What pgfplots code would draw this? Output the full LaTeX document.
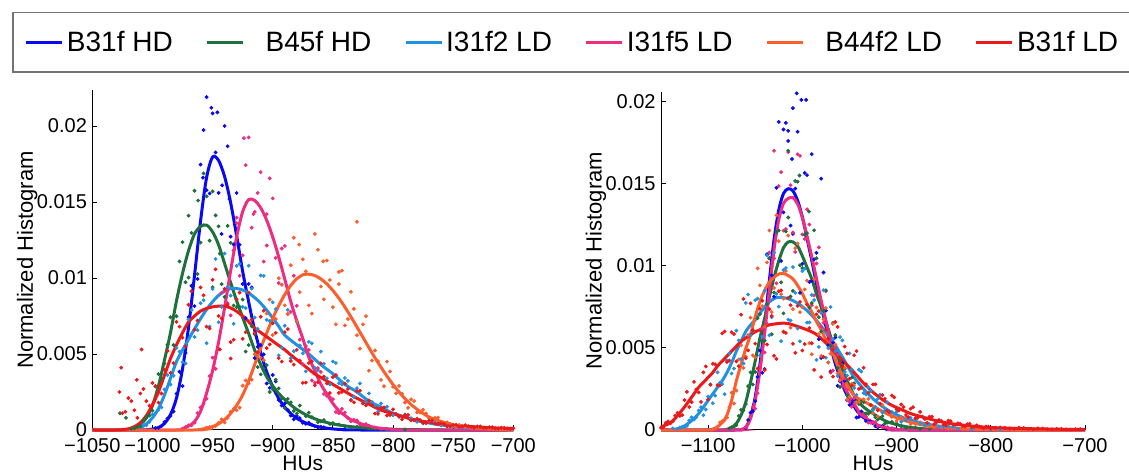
\documentclass[border=0pt]{standalone}
\usepackage{fontspec}
\setmainfont{Liberation Sans}
\usepackage{pgfplots}
\pgfplotsset{compat=1.18}
\definecolor{cB}{RGB}{10,10,240}
\definecolor{cG}{RGB}{30,112,60}
\definecolor{cL}{RGB}{35,145,225}
\definecolor{cP}{RGB}{238,45,128}
\definecolor{cO}{RGB}{250,95,45}
\definecolor{cR}{RGB}{235,25,25}
\pgfplotsset{
  hist/.style={scale only axis, axis lines*=left, clip=false, tick align=inside,
    major tick length=2.5pt, tick style={black, line width=0.4pt},
    axis line style={line width=0.5pt, black}, scaled y ticks=false, ymin=0,
    ytick={0,0.005,0.01,0.015,0.02}, yticklabels={0,0.005,0.01,0.015,0.02},
    ticklabel style={font=\fontsize{10}{12}\selectfont},
    xticklabel style={anchor=north, inner sep=0pt, yshift=-4.2pt},
    yticklabel style={anchor=east, inner sep=0pt, xshift=-2.5pt},
    xlabel={HUs}, ylabel={Normalized Histogram},
    every axis x label/.style={at={([yshift=-20.5pt]axis description cs:0.5,0)}, anchor=base, font=\fontsize{10.5}{12}\selectfont},
    every axis y label/.style={at={([xshift=-29.7pt]axis description cs:0,0.5)}, rotate=90, anchor=base, font=\fontsize{11}{13}\selectfont}},
  dots/.style={only marks, mark=*, mark size=0.75pt, forget plot},
  curve/.style={no marks, smooth, line width=1.5pt},
}
\begin{document}
\begin{tikzpicture}
\useasboundingbox (0,0) rectangle (564.5pt,237.5pt);
% ---------------- LEFT ----------------
\begin{axis}[hist, at={(46.15pt,22.5pt)}, anchor=south west, width=210.5pt, height=170pt,
  xmin=-1050, xmax=-700, ymax=0.02237,
  xtick={-1050,-1000,-950,-900,-850,-800,-750,-700},
  xticklabels={−1050,−1000,−950,−900,−850,−800,−750,−700},
  legend columns=6,
  legend image code/.code={\draw[#1, line width=1.6pt] (0pt,0pt) -- (18pt,0pt);},
  legend style={at={(axis description cs:-0.1907,1.2294)}, anchor=north west,
    draw=black!55, line width=0.75pt, fill=white, inner xsep=6pt, inner ysep=7pt,
    font=\fontsize{14}{16}\selectfont,
    nodes={inner xsep=1.5pt, inner ysep=2pt},
    /tikz/every even column/.append style={column sep=14.8pt}}]
% dots
\addplot[dots, cB] table[row sep=\\] {
-997.5 0.00013\\ -992.5 0.00026\\ -987.5 0.00076\\ -982.5 0.00122\\ -977.5 0.00383\\ -972.5 0.00507\\ -967.5 0.00949\\ -962.5 0.00994\\ -957.5 0.01973\\ -952.5 0.01556\\ -947.5 0.01826\\ -942.5 0.0129\\ -937.5 0.01867\\ -932.5 0.01221\\ -927.5 0.01219\\ -922.5 0.00736\\ -917.5 0.00938\\ -912.5 0.00548\\ -907.5 0.00498\\ -902.5 0.00277\\ -897.5 0.0032\\ -892.5 0.00161\\ -887.5 0.00132\\ -882.5 0.0007\\ -877.5 0.00078\\ -872.5 0.00041\\ -867.5 0.00035\\ -862.5 0.00017\\ -857.5 0.00018\\
-955 0.0219\\ -951 0.0212\\ -946 0.0209\\ -958 0.0166\\ -942 0.0161\\ -936 0.0152\\
-995 0.00014\\ -990 0.00052\\ -985 0.00093\\ -980 0.00239\\ -975 0.00289\\ -970 0.00743\\ -965 0.00815\\ -960 0.01746\\ -955 0.01578\\ -950 0.02083\\ -945 0.0156\\ -940 0.02\\ -935 0.01272\\ -930 0.01559\\ -925 0.0096\\ -920 0.00961\\ -915 0.00473\\ -910 0.00559\\ -905 0.00306\\ -900 0.00362\\ -895 0.00197\\ -890 0.00174\\ -885 0.00095\\ -880 0.00092\\ -875 0.00047\\ -870 0.00048\\ -865 0.00025\\ -860 0.00021\\
};
\addplot[dots, cG] table[row sep=\\] {
-1017.5 0.00008\\ -1012.5 0.00021\\ -1007.5 0.00064\\ -1002.5 0.00095\\ -997.5 0.00286\\ -992.5 0.00338\\ -987.5 0.00561\\ -982.5 0.00559\\ -977.5 0.01109\\ -972.5 0.00972\\ -967.5 0.01297\\ -962.5 0.01026\\ -957.5 0.01688\\ -952.5 0.01246\\ -947.5 0.01412\\ -942.5 0.0096\\ -937.5 0.01343\\ -932.5 0.00819\\ -927.5 0.00811\\ -922.5 0.00516\\ -917.5 0.00683\\ -912.5 0.00414\\ -907.5 0.00404\\ -902.5 0.0025\\ -897.5 0.00331\\ -892.5 0.00207\\ -887.5 0.00205\\ -882.5 0.00125\\ -877.5 0.00161\\ -872.5 0.00091\\ -867.5 0.00085\\ -862.5 0.00051\\ -857.5 0.00065\\ -852.5 0.0004\\ -845 0.00036\\ -835 0.00017\\ -825 0.00019\\ -815 0.0001\\ -805 0.00007\\ -790 0.00003\\
-1027 0.0011\\ -1022 0.0008\\ -970 0.0141\\ -962 0.0151\\ -950 0.0157\\ -944 0.0116\\
-1015 0.00011\\ -1010 0.00025\\ -1005 0.00088\\ -1000 0.00128\\ -995 0.00368\\ -990 0.00437\\ -985 0.00742\\ -980 0.00748\\ -975 0.01236\\ -970 0.01003\\ -965 0.01574\\ -960 0.01233\\ -955 0.01537\\ -950 0.00939\\ -945 0.0134\\ -940 0.00876\\ -935 0.01232\\ -930 0.00808\\ -925 0.00858\\ -920 0.00559\\ -915 0.0063\\ -910 0.00366\\ -905 0.00427\\ -900 0.00267\\ -895 0.00274\\ -890 0.00144\\ -885 0.00182\\ -880 0.00108\\ -870 0.00114\\ -860 0.00057\\ -850 0.00046\\ -840 0.00024\\ -830 0.00022\\ -820 0.0001\\
};
\addplot[dots, cL] table[row sep=\\] {
-1007.5 0.00036\\ -1002.5 0.00054\\ -997.5 0.00112\\ -992.5 0.00149\\ -987.5 0.00361\\ -982.5 0.00357\\ -977.5 0.00516\\ -972.5 0.00438\\ -967.5 0.00789\\ -962.5 0.00657\\ -957.5 0.00854\\ -952.5 0.0068\\ -947.5 0.01125\\ -942.5 0.0081\\ -937.5 0.0094\\ -932.5 0.00699\\ -927.5 0.01093\\ -922.5 0.00802\\ -917.5 0.0093\\ -912.5 0.00665\\ -907.5 0.01014\\ -902.5 0.00717\\ -897.5 0.00795\\ -892.5 0.00542\\ -887.5 0.0079\\ -882.5 0.00518\\ -877.5 0.00556\\ -872.5 0.00386\\ -867.5 0.0057\\ -862.5 0.00394\\ -857.5 0.00436\\ -852.5 0.003\\ -847.5 0.00441\\ -842.5 0.00299\\ -837.5 0.00323\\ -832.5 0.00218\\ -827.5 0.00306\\ -822.5 0.00185\\ -817.5 0.00184\\ -812.5 0.0012\\ -805 0.00153\\ -795 0.00086\\ -785 0.00078\\ -775 0.00043\\ -765 0.0005\\ -755 0.00027\\ -745 0.00022\\ -735 0.00012\\ -725 0.00013\\ -715 0.00006\\
-1005 0.00032\\ -1000 0.00102\\ -995 0.00133\\ -990 0.00267\\ -985 0.00299\\ -980 0.0054\\ -975 0.00447\\ -970 0.00727\\ -965 0.00612\\ -960 0.00834\\ -955 0.00571\\ -950 0.00928\\ -945 0.00709\\ -940 0.01161\\ -935 0.00884\\ -930 0.0108\\ -925 0.0081\\ -920 0.01081\\ -915 0.0074\\ -910 0.01017\\ -905 0.00725\\ -900 0.0084\\ -895 0.00491\\ -890 0.00686\\ -885 0.00472\\ -880 0.00711\\ -875 0.00504\\ -870 0.0058\\ -865 0.00409\\ -860 0.00516\\ -855 0.0034\\ -850 0.00451\\ -845 0.00308\\ -840 0.00342\\ -835 0.00198\\ -830 0.00275\\ -825 0.00176\\ -820 0.00241\\ -815 0.00162\\ -810 0.00174\\ -800 0.00097\\ -790 0.00102\\ -780 0.00054\\ -770 0.00056\\ -760 0.0003\\ -750 0.00027\\ -740 0.00012\\ -730 0.00013\\ -720 0.00006\\
};
\addplot[dots, cP] table[row sep=\\] {
-972.5 0.00019\\ -967.5 0.00031\\ -962.5 0.00111\\ -957.5 0.00172\\ -952.5 0.00354\\ -947.5 0.00402\\ -942.5 0.00901\\ -937.5 0.00834\\ -932.5 0.01182\\ -927.5 0.01015\\ -922.5 0.01742\\ -917.5 0.01331\\ -912.5 0.0156\\ -907.5 0.01108\\ -902.5 0.01656\\ -897.5 0.01132\\ -892.5 0.01194\\ -887.5 0.00763\\ -882.5 0.01015\\ -877.5 0.00594\\ -872.5 0.00552\\ -867.5 0.00326\\ -862.5 0.00407\\ -857.5 0.00237\\ -852.5 0.00216\\ -847.5 0.00118\\ -842.5 0.00139\\ -837.5 0.00077\\ -832.5 0.00067\\ -827.5 0.00037\\ -822.5 0.00039\\ -815 0.00016\\ -805 0.00007\\
-924 0.0192\\ -916 0.0142\\ -905 0.0142\\ -930 0.0136\\
-970 0.0003\\ -965 0.00048\\ -960 0.00148\\ -955 0.00206\\ -950 0.00476\\ -945 0.00533\\ -940 0.00919\\ -935 0.00754\\ -930 0.01397\\ -925 0.01149\\ -920 0.01925\\ -915 0.01435\\ -910 0.01696\\ -905 0.01214\\ -900 0.01524\\ -895 0.00967\\ -890 0.01211\\ -885 0.00777\\ -880 0.00817\\ -875 0.00433\\ -870 0.00527\\ -865 0.00311\\ -860 0.00382\\ -855 0.00225\\ -850 0.00203\\ -845 0.00111\\ -840 0.00115\\ -835 0.00057\\ -830 0.00063\\ -825 0.00033\\ -820 0.00029\\ -810 0.00008\\
};
\addplot[dots, cO] table[row sep=\\] {
-952.5 0.00019\\ -947.5 0.00026\\ -942.5 0.0007\\ -937.5 0.00079\\ -932.5 0.00138\\ -927.5 0.00147\\ -922.5 0.00326\\ -917.5 0.00331\\ -912.5 0.00508\\ -907.5 0.00459\\ -902.5 0.00858\\ -897.5 0.0073\\ -892.5 0.00956\\ -887.5 0.00764\\ -882.5 0.01265\\ -877.5 0.00907\\ -872.5 0.01044\\ -867.5 0.00766\\ -862.5 0.01186\\ -857.5 0.0086\\ -852.5 0.00987\\ -847.5 0.00696\\ -842.5 0.01048\\ -837.5 0.0073\\ -832.5 0.00797\\ -827.5 0.00535\\ -822.5 0.00749\\ -817.5 0.00457\\ -812.5 0.00453\\ -807.5 0.00288\\ -802.5 0.00385\\ -797.5 0.00241\\ -792.5 0.00239\\ -787.5 0.00146\\ -782.5 0.0019\\ -777.5 0.00115\\ -772.5 0.00109\\ -767.5 0.00065\\ -762.5 0.00082\\ -757.5 0.00045\\ -752.5 0.00041\\ -747.5 0.00023\\ -742.5 0.00027\\ -735 0.00014\\ -725 0.00011\\ -715 0.00004\\
-830 0.0137\\ -878 0.0122\\ -858 0.0111\\ -845 0.0096\\
-955 0.00015\\ -950 0.0002\\ -945 0.00047\\ -940 0.00049\\ -935 0.0012\\ -930 0.0013\\ -925 0.00292\\ -920 0.00307\\ -915 0.00499\\ -910 0.00474\\ -905 0.00766\\ -900 0.00625\\ -895 0.00998\\ -890 0.0082\\ -885 0.01084\\ -880 0.00716\\ -875 0.01123\\ -870 0.0082\\ -865 0.0129\\ -860 0.00944\\ -855 0.01115\\ -850 0.00808\\ -845 0.0104\\ -840 0.00688\\ -835 0.00909\\ -830 0.00624\\ -825 0.00695\\ -820 0.0039\\ -815 0.00523\\ -810 0.0033\\ -805 0.0045\\ -800 0.00284\\ -795 0.0029\\ -790 0.00181\\ -785 0.00202\\ -780 0.00116\\ -775 0.00133\\ -770 0.00078\\ -765 0.0008\\ -760 0.0004\\ -755 0.0005\\ -750 0.00027\\ -745 0.00033\\ -740 0.00019\\ -730 0.00014\\ -720 0.00006\\ -710 0.00005\\
};
\addplot[dots, cR] table[row sep=\\] {
-1027.5 0.0025\\ -1022.5 0.0012\\ -1017.5 0.0019\\ -1012.5 0.0008\\ -1007.5 0.0027\\ -1002.5 0.0016\\ -997.5 0.0029\\ -992.5 0.0024\\ -987.5 0.0052\\ -982.5 0.0044\\ -977.5 0.0068\\ -972.5 0.0055\\ -967.5 0.00913\\ -962.5 0.0072\\ -957.5 0.00886\\ -952.5 0.00668\\ -947.5 0.01057\\ -942.5 0.00734\\ -937.5 0.00824\\ -932.5 0.00594\\ -927.5 0.00904\\ -922.5 0.00643\\ -917.5 0.00726\\ -912.5 0.00512\\ -907.5 0.00785\\ -902.5 0.00563\\ -897.5 0.00639\\ -892.5 0.0045\\ -887.5 0.00664\\ -882.5 0.0043\\ -877.5 0.00456\\ -872.5 0.00312\\ -867.5 0.00453\\ -862.5 0.00314\\ -857.5 0.00352\\ -852.5 0.00243\\ -847.5 0.00361\\ -842.5 0.0025\\ -837.5 0.0027\\ -832.5 0.00182\\ -827.5 0.00259\\ -822.5 0.00162\\ -817.5 0.00163\\ -812.5 0.00106\\ -807.5 0.00148\\ -802.5 0.00099\\ -797.5 0.00106\\ -792.5 0.0007\\ -787.5 0.00099\\ -782.5 0.00064\\ -777.5 0.00066\\ -772.5 0.00045\\ -767.5 0.00062\\ -762.5 0.00038\\ -757.5 0.00039\\ -752.5 0.00024\\ -747.5 0.00034\\ -742.5 0.00023\\ -737.5 0.00025\\ -732.5 0.00016\\ -727.5 0.00024\\ -722.5 0.00014\\ -717.5 0.00018\\ -712.5 0.0001\\ -707.5 0.00014\\ -702.5 0.00008\\
-1026 0.0041\\ -1009 0.0053\\ -1013 0.0033\\ -944 0.0053\\ -935 0.0047\\
-1025 0.0011\\ -1020 0.0021\\ -1015 0.0013\\ -1010 0.0024\\ -1005 0.0019\\ -1000 0.0031\\ -995 0.0018\\ -990 0.00396\\ -985 0.00376\\ -980 0.00711\\ -975 0.00608\\ -970 0.00824\\ -965 0.0066\\ -960 0.00938\\ -955 0.0068\\ -950 0.00988\\ -945 0.0075\\ -940 0.00929\\ -935 0.00578\\ -930 0.00859\\ -925 0.006\\ -920 0.00904\\ -915 0.00637\\ -910 0.00745\\ -905 0.00539\\ -900 0.00702\\ -895 0.00473\\ -890 0.00644\\ -885 0.00454\\ -880 0.00527\\ -875 0.0031\\ -870 0.0044\\ -865 0.00294\\ -860 0.00439\\ -855 0.00307\\ -850 0.00348\\ -845 0.00244\\ -840 0.00305\\ -835 0.00196\\ -830 0.00255\\ -825 0.00175\\ -820 0.00194\\ -815 0.00108\\ -810 0.00144\\ -805 0.00095\\ -800 0.00136\\ -795 0.0009\\ -790 0.00097\\ -785 0.00064\\ -780 0.00074\\ -775 0.00048\\ -770 0.00062\\ -765 0.00041\\ -760 0.00044\\ -755 0.00024\\ -750 0.00033\\ -745 0.00022\\ -740 0.00032\\ -735 0.00021\\ -730 0.00023\\ -725 0.00015\\ -720 0.00018\\ -715 0.00011\\ -710 0.00015\\ -705 0.0001\\ -700 0.00011\\
};
% curves
\addplot[curve, cB] table[row sep=\\] {
-1050 0\\ -1010 0\\ -1005 0.00002\\ -1000 0.00006\\ -995 0.00016\\ -990 0.00043\\ -985 0.00101\\ -980 0.0021\\ -975 0.00402\\ -970 0.00675\\ -965 0.01019\\ -960 0.01375\\ -955 0.01661\\ -950 0.01796\\ -945 0.01773\\ -940 0.01667\\ -935 0.01496\\ -930 0.01278\\ -925 0.01044\\ -920 0.00843\\ -915 0.00657\\ -910 0.00508\\ -905 0.00382\\ -900 0.00285\\ -895 0.00207\\ -890 0.0015\\ -885 0.00108\\ -880 0.00077\\ -875 0.00055\\ -870 0.00039\\ -865 0.00027\\ -860 0.00018\\ -850 0.00007\\ -840 0.00002\\ -830 0\\ -700 0\\
};
\addlegendentry{B31f HD}
\addplot[curve, cG] table[row sep=\\] {
-1050 0\\ -1025 0\\ -1020 0.00003\\ -1015 0.0001\\ -1010 0.00035\\ -1005 0.0008\\ -1000 0.0016\\ -995 0.0029\\ -990 0.0046\\ -985 0.0064\\ -980 0.0085\\ -975 0.0103\\ -970 0.0118\\ -965 0.0129\\ -960 0.0134\\ -955 0.01348\\ -950 0.01304\\ -945 0.01218\\ -940 0.01095\\ -935 0.0097\\ -930 0.0085\\ -925 0.0074\\ -920 0.00635\\ -915 0.00525\\ -910 0.0043\\ -905 0.0035\\ -900 0.0029\\ -895 0.0024\\ -890 0.002\\ -885 0.00165\\ -880 0.00135\\ -870 0.0009\\ -860 0.0006\\ -850 0.0004\\ -840 0.00027\\ -830 0.00018\\ -820 0.00012\\ -810 0.00008\\ -800 0.00005\\ -780 0.00002\\ -760 0\\ -700 0\\
};
\addlegendentry{\hspace{9pt}B45f HD}
\addplot[curve, cL] table[row sep=\\] {
-1050 0\\ -1015 0\\ -1010 0.00015\\ -1005 0.0004\\ -1000 0.0008\\ -995 0.0014\\ -990 0.0023\\ -985 0.0034\\ -980 0.0045\\ -975 0.00526\\ -970 0.00596\\ -965 0.00665\\ -960 0.00732\\ -955 0.00793\\ -950 0.00844\\ -945 0.00886\\ -940 0.00914\\ -935 0.0093\\ -930 0.00931\\ -925 0.00921\\ -920 0.00901\\ -915 0.00871\\ -910 0.00834\\ -905 0.00788\\ -900 0.00737\\ -895 0.00682\\ -890 0.00624\\ -880 0.0056\\ -870 0.005\\ -860 0.0043\\ -850 0.0037\\ -840 0.003\\ -830 0.0025\\ -820 0.0019\\ -810 0.0015\\ -800 0.0011\\ -790 0.00085\\ -780 0.00063\\ -770 0.00046\\ -760 0.00033\\ -750 0.00024\\ -740 0.00017\\ -730 0.00012\\ -720 0.00008\\ -700 0.00004\\
};
\addlegendentry{I31f2 LD}
\addplot[curve, cP] table[row sep=\\] {
-1050 0\\ -980 0\\ -975 0.00009\\ -970 0.00026\\ -965 0.00055\\ -960 0.00123\\ -955 0.00242\\ -950 0.0039\\ -945 0.00579\\ -940 0.00806\\ -935 0.01047\\ -930 0.0127\\ -925 0.01436\\ -920 0.01516\\ -915 0.0151\\ -910 0.01462\\ -905 0.0138\\ -900 0.0127\\ -895 0.01138\\ -890 0.00993\\ -885 0.00845\\ -880 0.00717\\ -875 0.00602\\ -870 0.00479\\ -865 0.00389\\ -860 0.00301\\ -855 0.00237\\ -850 0.00175\\ -845 0.00126\\ -840 0.00096\\ -835 0.00067\\ -830 0.00052\\ -825 0.00036\\ -820 0.00025\\ -810 0.00011\\ -800 0.00004\\ -790 0\\ -700 0\\
};
\addlegendentry{I31f5 LD}
\addplot[curve, cO] table[row sep=\\] {
-1050 0\\ -965 0\\ -960 0.00004\\ -955 0.00012\\ -950 0.00022\\ -945 0.00041\\ -940 0.00068\\ -935 0.00109\\ -930 0.00162\\ -925 0.0023\\ -920 0.00323\\ -915 0.0043\\ -910 0.00539\\ -905 0.00638\\ -900 0.00735\\ -895 0.00818\\ -890 0.00891\\ -885 0.00951\\ -880 0.00995\\ -875 0.01021\\ -870 0.01025\\ -865 0.01016\\ -860 0.00994\\ -855 0.00961\\ -850 0.00918\\ -845 0.00867\\ -840 0.00809\\ -835 0.00745\\ -830 0.00678\\ -825 0.0061\\ -820 0.00542\\ -815 0.00475\\ -810 0.00413\\ -805 0.00354\\ -800 0.00299\\ -795 0.0025\\ -790 0.00206\\ -785 0.00168\\ -780 0.00136\\ -775 0.00109\\ -770 0.00085\\ -765 0.0007\\ -760 0.00056\\ -755 0.00045\\ -750 0.00034\\ -745 0.00026\\ -740 0.0002\\ -730 0.00012\\ -720 0.00007\\ -710 0.00004\\ -700 0.00002\\
};
\addlegendentry{\hspace{9pt}B44f2 LD}
\addplot[curve, cR] table[row sep=\\] {
-1050 0\\ -1030 0\\ -1025 0.00002\\ -1020 0.00008\\ -1015 0.00022\\ -1010 0.00048\\ -1005 0.00095\\ -1000 0.00165\\ -995 0.0025\\ -990 0.0036\\ -985 0.0047\\ -980 0.0056\\ -975 0.0064\\ -970 0.0071\\ -965 0.0075\\ -960 0.00782\\ -955 0.008\\ -950 0.0081\\ -945 0.00815\\ -940 0.00815\\ -935 0.00803\\ -930 0.00781\\ -925 0.0075\\ -920 0.00712\\ -915 0.0067\\ -910 0.00642\\ -905 0.00613\\ -900 0.00585\\ -895 0.00556\\ -890 0.00528\\ -885 0.00494\\ -880 0.00462\\ -875 0.00431\\ -870 0.004\\ -865 0.00368\\ -860 0.00346\\ -855 0.00323\\ -850 0.003\\ -845 0.00277\\ -840 0.00254\\ -835 0.0023\\ -830 0.00209\\ -820 0.0017\\ -810 0.00131\\ -800 0.00107\\ -790 0.00084\\ -780 0.00062\\ -770 0.00051\\ -760 0.00039\\ -750 0.0003\\ -740 0.00025\\ -730 0.0002\\ -720 0.00015\\ -710 0.00012\\ -700 0.0001\\
};
\addlegendentry{B31f LD}
\end{axis}
% ---------------- RIGHT ----------------
\begin{axis}[hist, at={(330.5pt,22.5pt)}, anchor=south west, width=212pt, height=169.15pt,
  xmin=-1150, xmax=-700, ymax=0.0206,
  xtick={-1100,-1000,-900,-800,-700},
  xticklabels={−1100,−1000,−900,−800,−700}]
\addplot[dots, cB] table[row sep=\\] {
-1057.5 0.00061\\ -1052.5 0.00115\\ -1047.5 0.00324\\ -1042.5 0.00348\\ -1037.5 0.0107\\ -1032.5 0.00942\\ -1027.5 0.01475\\ -1022.5 0.01029\\ -1017.5 0.0187\\ -1012.5 0.01245\\ -1007.5 0.0147\\ -1002.5 0.00835\\ -997.5 0.01565\\ -992.5 0.00902\\ -987.5 0.01039\\ -982.5 0.00553\\ -977.5 0.00959\\ -972.5 0.00515\\ -967.5 0.00533\\ -962.5 0.00269\\ -957.5 0.00409\\ -952.5 0.00182\\ -947.5 0.0017\\ -942.5 0.00076\\ -937.5 0.00113\\ -932.5 0.00055\\ -927.5 0.00053\\ -922.5 0.00023\\ -915 0.00025\\ -905 0.00009\\
-1006 0.0205\\ -1001 0.0201\\ -996 0.0201\\ -1010 0.0196\\ -1020 0.0183\\ -1015 0.0176\\ -990 0.0168\\ -980 0.0153\\ -1011 0.0165\\
-1060 0.00012\\ -1055 0.00106\\ -1050 0.00176\\ -1045 0.00484\\ -1040 0.00371\\ -1035 0.01047\\ -1030 0.00812\\ -1025 0.01876\\ -1020 0.01325\\ -1015 0.01822\\ -1010 0.01194\\ -1005 0.01816\\ -1000 0.01012\\ -995 0.01552\\ -990 0.00908\\ -985 0.01079\\ -980 0.00439\\ -975 0.00727\\ -970 0.00357\\ -965 0.00564\\ -960 0.00297\\ -955 0.00299\\ -950 0.00153\\ -945 0.00186\\ -940 0.00079\\ -935 0.00101\\ -930 0.0005\\ -925 0.00048\\ -920 0.00016\\
};
\addplot[dots, cP] table[row sep=\\] {
-1057.5 0.0004\\ -1052.5 0.0014\\ -1047.5 0.00224\\ -1042.5 0.00618\\ -1037.5 0.00648\\ -1032.5 0.00995\\ -1027.5 0.00893\\ -1022.5 0.0157\\ -1017.5 0.01223\\ -1012.5 0.01491\\ -1007.5 0.01084\\ -1002.5 0.01669\\ -997.5 0.01163\\ -992.5 0.01251\\ -987.5 0.0082\\ -982.5 0.01112\\ -977.5 0.00653\\ -972.5 0.00611\\ -967.5 0.00362\\ -962.5 0.0046\\ -957.5 0.00268\\ -952.5 0.00244\\ -947.5 0.00141\\ -942.5 0.0017\\ -937.5 0.00093\\ -932.5 0.00082\\ -927.5 0.00044\\ -922.5 0.00048\\ -915 0.00018\\ -905 0.0001\\
-1030 0.0170\\
-1060 0.00016\\ -1055 0.0008\\ -1050 0.0013\\ -1045 0.00396\\ -1040 0.00472\\ -1035 0.0108\\ -1030 0.01045\\ -1025 0.01485\\ -1020 0.01214\\ -1015 0.01692\\ -1010 0.01203\\ -1005 0.01679\\ -1000 0.01191\\ -995 0.01344\\ -990 0.0076\\ -985 0.01014\\ -980 0.0063\\ -975 0.00845\\ -970 0.00506\\ -965 0.00502\\ -960 0.00305\\ -955 0.00313\\ -950 0.00173\\ -945 0.00194\\ -940 0.00104\\ -935 0.00097\\ -930 0.00045\\ -925 0.00048\\ -920 0.00024\\ -910 0.00017\\
};
\addplot[dots, cG] table[row sep=\\] {
-1077.5 0.0001\\ -1072.5 0.0002\\ -1067.5 0.00086\\ -1062.5 0.0012\\ -1057.5 0.00267\\ -1052.5 0.00277\\ -1047.5 0.00681\\ -1042.5 0.00539\\ -1037.5 0.00767\\ -1032.5 0.00583\\ -1027.5 0.01205\\ -1022.5 0.00899\\ -1017.5 0.01209\\ -1012.5 0.00813\\ -1007.5 0.01516\\ -1002.5 0.01003\\ -997.5 0.01189\\ -992.5 0.00745\\ -987.5 0.01216\\ -982.5 0.00687\\ -977.5 0.00726\\ -972.5 0.00412\\ -967.5 0.00652\\ -962.5 0.00378\\ -957.5 0.00396\\ -952.5 0.00213\\ -947.5 0.00319\\ -942.5 0.00175\\ -937.5 0.00174\\ -932.5 0.00101\\ -927.5 0.00153\\ -922.5 0.00078\\ -917.5 0.00074\\ -912.5 0.00038\\ -905 0.0005\\ -895 0.00022\\ -885 0.00017\\ -875 0.00007\\ -865 0.00007\\
-1015 0.0170\\ -1003 0.0155\\ -993 0.0133\\
-1075 0.00017\\ -1070 0.0003\\ -1065 0.00122\\ -1060 0.00158\\ -1055 0.00351\\ -1050 0.00353\\ -1045 0.00706\\ -1040 0.00544\\ -1035 0.01045\\ -1030 0.00837\\ -1025 0.01215\\ -1020 0.0071\\ -1015 0.01294\\ -1010 0.00847\\ -1005 0.01512\\ -1000 0.00986\\ -995 0.01198\\ -990 0.00773\\ -985 0.01046\\ -980 0.006\\ -975 0.00851\\ -970 0.00513\\ -965 0.00578\\ -960 0.00262\\ -955 0.00373\\ -950 0.002\\ -945 0.00284\\ -940 0.00158\\ -935 0.00169\\ -930 0.00099\\ -925 0.00126\\ -920 0.00064\\ -915 0.00084\\ -910 0.00045\\ -900 0.00039\\ -890 0.00013\\ -880 0.00014\\
};
\addplot[dots, cO] table[row sep=\\] {
-1092.5 0.00009\\ -1087.5 0.00046\\ -1082.5 0.00059\\ -1077.5 0.00139\\ -1072.5 0.00161\\ -1067.5 0.0043\\ -1062.5 0.00378\\ -1057.5 0.00578\\ -1052.5 0.00454\\ -1047.5 0.00984\\ -1042.5 0.00754\\ -1037.5 0.01021\\ -1032.5 0.00718\\ -1027.5 0.01307\\ -1022.5 0.00827\\ -1017.5 0.00968\\ -1012.5 0.00623\\ -1007.5 0.01107\\ -1002.5 0.00718\\ -997.5 0.00856\\ -992.5 0.00529\\ -987.5 0.00918\\ -982.5 0.00584\\ -977.5 0.00673\\ -972.5 0.0041\\ -967.5 0.00646\\ -962.5 0.00344\\ -957.5 0.0034\\ -952.5 0.00184\\ -947.5 0.00283\\ -942.5 0.00168\\ -935 0.00187\\ -925 0.00103\\ -915 0.00152\\ -905 0.0008\\ -895 0.00075\\ -885 0.00037\\ -875 0.00047\\ -865 0.00021\\ -855 0.00018\\ -845 0.00008\\ -830 0.00009\\
-1090 0.00019\\ -1085 0.00054\\ -1080 0.00076\\ -1075 0.00227\\ -1070 0.0024\\ -1065 0.00516\\ -1060 0.00446\\ -1055 0.00684\\ -1050 0.00442\\ -1045 0.00881\\ -1040 0.00629\\ -1035 0.01215\\ -1030 0.00865\\ -1025 0.0115\\ -1020 0.008\\ -1015 0.01184\\ -1010 0.00736\\ -1005 0.01135\\ -1000 0.00747\\ -995 0.00909\\ -990 0.00461\\ -985 0.00746\\ -980 0.00451\\ -975 0.00743\\ -970 0.00465\\ -965 0.0052\\ -960 0.00302\\ -955 0.00378\\ -950 0.002\\ -945 0.00271\\ -940 0.00171\\ -930 0.00189\\ -920 0.00083\\ -910 0.00111\\ -900 0.00056\\ -890 0.00074\\ -880 0.00037\\ -870 0.00034\\ -860 0.00017\\ -850 0.00018\\
};
\addplot[dots, cL] table[row sep=\\] {
-1137.5 0.0001\\ -1132.5 0.00007\\ -1127.5 0.00019\\ -1122.5 0.00025\\ -1117.5 0.00077\\ -1112.5 0.00078\\ -1107.5 0.00139\\ -1102.5 0.00125\\ -1097.5 0.00278\\ -1092.5 0.00209\\ -1087.5 0.00288\\ -1082.5 0.00218\\ -1077.5 0.00467\\ -1072.5 0.00374\\ -1067.5 0.00546\\ -1062.5 0.00405\\ -1057.5 0.00825\\ -1052.5 0.00603\\ -1047.5 0.008\\ -1042.5 0.00569\\ -1037.5 0.01063\\ -1032.5 0.00687\\ -1027.5 0.00829\\ -1022.5 0.00541\\ -1017.5 0.00986\\ -1012.5 0.00666\\ -1007.5 0.00835\\ -1002.5 0.0054\\ -997.5 0.00982\\ -992.5 0.00655\\ -987.5 0.00791\\ -982.5 0.00506\\ -977.5 0.00851\\ -972.5 0.00499\\ -967.5 0.00551\\ -962.5 0.00329\\ -957.5 0.00546\\ -952.5 0.00332\\ -947.5 0.00369\\ -942.5 0.00214\\ -937.5 0.00356\\ -932.5 0.00216\\ -927.5 0.00238\\ -922.5 0.0014\\ -917.5 0.00215\\ -912.5 0.00117\\ -905 0.0011\\ -895 0.0005\\ -885 0.00074\\ -875 0.00038\\ -865 0.00035\\ -855 0.00017\\ -845 0.00023\\ -835 0.00009\\ -820 0.00006\\ -800 0.00004\\
-1130 0.00015\\ -1125 0.0002\\ -1120 0.00058\\ -1115 0.00063\\ -1110 0.00118\\ -1105 0.0009\\ -1100 0.00203\\ -1095 0.00163\\ -1090 0.00351\\ -1085 0.00279\\ -1080 0.00424\\ -1075 0.00344\\ -1070 0.00605\\ -1065 0.00432\\ -1060 0.00774\\ -1055 0.00576\\ -1050 0.00791\\ -1045 0.00454\\ -1040 0.00848\\ -1035 0.00577\\ -1030 0.0108\\ -1025 0.00751\\ -1020 0.00974\\ -1015 0.00672\\ -1010 0.00992\\ -1005 0.00618\\ -1000 0.00968\\ -995 0.00654\\ -990 0.00822\\ -985 0.00427\\ -980 0.00712\\ -975 0.0044\\ -970 0.00749\\ -965 0.00479\\ -960 0.00566\\ -955 0.00353\\ -950 0.00466\\ -945 0.00256\\ -940 0.00368\\ -935 0.00225\\ -930 0.0026\\ -925 0.00122\\ -920 0.00189\\ -915 0.00106\\ -910 0.00169\\ -900 0.00109\\ -890 0.00059\\ -880 0.00066\\ -870 0.00031\\ -860 0.00036\\ -850 0.00018\\ -840 0.00017\\ -820 0.00008\\ -790 0.00003\\
};
\addplot[dots, cR] table[row sep=\\] {
-1147.5 0.00017\\ -1142.5 0.00052\\ -1137.5 0.00053\\ -1132.5 0.00104\\ -1127.5 0.00091\\ -1122.5 0.00232\\ -1117.5 0.0017\\ -1112.5 0.00247\\ -1107.5 0.00171\\ -1102.5 0.00387\\ -1097.5 0.00275\\ -1092.5 0.004\\ -1087.5 0.00271\\ -1082.5 0.006\\ -1077.5 0.00423\\ -1072.5 0.00584\\ -1067.5 0.00389\\ -1062.5 0.00798\\ -1057.5 0.00485\\ -1052.5 0.00608\\ -1047.5 0.00374\\ -1042.5 0.00787\\ -1037.5 0.00521\\ -1032.5 0.00694\\ -1027.5 0.00433\\ -1022.5 0.0085\\ -1017.5 0.00591\\ -1012.5 0.0076\\ -1007.5 0.0047\\ -1002.5 0.0078\\ -997.5 0.00523\\ -992.5 0.00621\\ -987.5 0.00366\\ -982.5 0.00724\\ -977.5 0.00445\\ -972.5 0.00556\\ -967.5 0.00325\\ -962.5 0.00628\\ -957.5 0.00387\\ -952.5 0.00466\\ -947.5 0.0027\\ -942.5 0.0048\\ -937.5 0.00256\\ -932.5 0.00279\\ -927.5 0.00151\\ -922.5 0.00278\\ -917.5 0.00161\\ -912.5 0.0019\\ -907.5 0.00107\\ -902.5 0.00199\\ -897.5 0.00119\\ -892.5 0.0014\\ -887.5 0.00078\\ -882.5 0.00139\\ -877.5 0.00074\\ -872.5 0.00081\\ -867.5 0.00044\\ -862.5 0.00081\\ -857.5 0.00047\\ -852.5 0.00054\\ -847.5 0.00029\\ -842.5 0.00054\\ -837.5 0.00032\\ -832.5 0.00038\\ -827.5 0.00021\\ -822.5 0.00038\\ -817.5 0.0002\\ -812.5 0.00021\\ -807.5 0.00011\\ -802.5 0.0002\\ -795 0.00011\\ -785 0.00013\\ -775 0.00007\\ -765 0.00012\\ -755 0.00005\\ -745 0.00009\\ -735 0.00004\\ -725 0.00006\\ -715 0.00003\\ -705 0.00005\\
-1150 0.00014\\ -1145 0.00042\\ -1140 0.00041\\ -1135 0.00087\\ -1130 0.00086\\ -1125 0.00182\\ -1120 0.0014\\ -1115 0.00293\\ -1110 0.00229\\ -1105 0.00351\\ -1100 0.00186\\ -1095 0.00403\\ -1090 0.00273\\ -1085 0.00588\\ -1080 0.00414\\ -1075 0.00595\\ -1070 0.00418\\ -1065 0.00702\\ -1060 0.00437\\ -1055 0.00771\\ -1050 0.00526\\ -1045 0.00738\\ -1040 0.00365\\ -1035 0.00736\\ -1030 0.00452\\ -1025 0.00845\\ -1020 0.00598\\ -1015 0.00804\\ -1010 0.00525\\ -1005 0.00756\\ -1000 0.00484\\ -995 0.00763\\ -990 0.00528\\ -985 0.00704\\ -980 0.00322\\ -975 0.0061\\ -970 0.0035\\ -965 0.00658\\ -960 0.00405\\ -955 0.00508\\ -950 0.00312\\ -945 0.00455\\ -940 0.0025\\ -935 0.00379\\ -930 0.00226\\ -925 0.00278\\ -920 0.0012\\ -915 0.00213\\ -910 0.00117\\ -905 0.0021\\ -900 0.00126\\ -895 0.00155\\ -890 0.00092\\ -885 0.0013\\ -880 0.00072\\ -875 0.0011\\ -870 0.00066\\ -865 0.00081\\ -860 0.00035\\ -855 0.00061\\ -850 0.00033\\ -845 0.00057\\ -840 0.00034\\ -835 0.00041\\ -830 0.00025\\ -825 0.00035\\ -820 0.00019\\ -815 0.00028\\ -810 0.00017\\ -805 0.00021\\ -800 0.00009\\ -790 0.00015\\ -780 0.00008\\ -770 0.00014\\ -760 0.00007\\ -750 0.0001\\ -740 0.00005\\ -730 0.00007\\ -720 0.00004\\ -710 0.00005\\
};
\addplot[curve, cB] table[row sep=\\] {
-1150 0\\ -1070 0\\ -1065 0.00002\\ -1060 0.00015\\ -1055 0.0008\\ -1050 0.002\\ -1045 0.004\\ -1040 0.0064\\ -1035 0.0091\\ -1030 0.0116\\ -1025 0.0134\\ -1020 0.0144\\ -1015 0.01469\\ -1010 0.01456\\ -1005 0.01397\\ -1000 0.01297\\ -995 0.01167\\ -990 0.01032\\ -985 0.00892\\ -980 0.00757\\ -975 0.00632\\ -970 0.0051\\ -965 0.00403\\ -960 0.00323\\ -955 0.00241\\ -950 0.00187\\ -945 0.00143\\ -940 0.00101\\ -935 0.00076\\ -930 0.00057\\ -925 0.0004\\ -920 0.00027\\ -910 0.00012\\ -900 0.00004\\ -890 0\\ -700 0\\
};
\addplot[curve, cG] table[row sep=\\] {
-1150 0\\ -1085 0\\ -1080 0.00004\\ -1075 0.00015\\ -1070 0.0004\\ -1065 0.0009\\ -1060 0.0017\\ -1055 0.0029\\ -1050 0.0042\\ -1045 0.0056\\ -1040 0.0068\\ -1035 0.0081\\ -1030 0.0093\\ -1025 0.0103\\ -1020 0.0111\\ -1015 0.01145\\ -1010 0.01145\\ -1005 0.0112\\ -1000 0.0106\\ -995 0.0099\\ -990 0.0092\\ -985 0.0083\\ -980 0.0075\\ -975 0.0066\\ -970 0.0057\\ -965 0.0049\\ -960 0.0041\\ -955 0.0033\\ -950 0.0027\\ -945 0.0021\\ -940 0.0017\\ -935 0.0014\\ -930 0.00118\\ -925 0.001\\ -920 0.0008\\ -915 0.00065\\ -910 0.0005\\ -900 0.00033\\ -890 0.0002\\ -880 0.00012\\ -870 0.00007\\ -860 0.00004\\ -850 0.00002\\ -840 0\\ -700 0\\
};
\addplot[curve, cL] table[row sep=\\] {
-1150 0\\ -1140 0.00002\\ -1135 0.00005\\ -1130 0.00012\\ -1125 0.00025\\ -1120 0.00045\\ -1115 0.0007\\ -1110 0.001\\ -1105 0.0014\\ -1100 0.0018\\ -1095 0.0022\\ -1090 0.0026\\ -1085 0.003\\ -1080 0.0035\\ -1075 0.0041\\ -1070 0.0048\\ -1065 0.0054\\ -1060 0.006\\ -1055 0.0064\\ -1050 0.0067\\ -1045 0.0071\\ -1040 0.0075\\ -1035 0.0078\\ -1030 0.008\\ -1025 0.00808\\ -1015 0.008\\ -1005 0.00772\\ -995 0.00727\\ -985 0.00667\\ -975 0.00594\\ -965 0.00515\\ -955 0.0042\\ -945 0.0032\\ -935 0.0025\\ -925 0.0019\\ -915 0.00143\\ -905 0.00107\\ -895 0.0008\\ -885 0.0006\\ -875 0.00045\\ -865 0.00033\\ -855 0.00024\\ -845 0.00017\\ -830 0.00007\\ -810 0.00003\\ -790 0.00001\\ -770 0\\ -700 0\\
};
\addplot[curve, cP] table[row sep=\\] {
-1150 0\\ -1070 0\\ -1065 0.00003\\ -1060 0.00017\\ -1055 0.0007\\ -1050 0.0018\\ -1045 0.0036\\ -1040 0.0059\\ -1035 0.0085\\ -1030 0.011\\ -1025 0.0128\\ -1020 0.0138\\ -1015 0.0141\\ -1010 0.01415\\ -1005 0.01376\\ -1000 0.01295\\ -995 0.01179\\ -990 0.01055\\ -985 0.00922\\ -980 0.00788\\ -975 0.00665\\ -970 0.00533\\ -965 0.00433\\ -960 0.00347\\ -955 0.00261\\ -950 0.00204\\ -945 0.00159\\ -940 0.00113\\ -935 0.00085\\ -930 0.00062\\ -925 0.00044\\ -920 0.0003\\ -910 0.00013\\ -900 0.00005\\ -890 0\\ -700 0\\
};
\addplot[curve, cO] table[row sep=\\] {
-1150 0\\ -1100 0\\ -1095 0.00005\\ -1090 0.0002\\ -1085 0.00045\\ -1080 0.0009\\ -1075 0.0018\\ -1070 0.003\\ -1065 0.004\\ -1060 0.00496\\ -1055 0.0058\\ -1050 0.0069\\ -1045 0.0078\\ -1040 0.0085\\ -1035 0.009\\ -1030 0.0093\\ -1025 0.0095\\ -1020 0.00953\\ -1015 0.0094\\ -1010 0.0092\\ -1005 0.0088\\ -1000 0.0083\\ -995 0.0077\\ -990 0.0072\\ -985 0.0066\\ -980 0.0061\\ -975 0.0055\\ -970 0.005\\ -965 0.0043\\ -960 0.0036\\ -955 0.003\\ -950 0.0025\\ -945 0.0021\\ -940 0.0019\\ -930 0.0016\\ -920 0.0013\\ -910 0.00098\\ -900 0.00075\\ -890 0.00055\\ -880 0.0004\\ -870 0.00028\\ -860 0.0002\\ -850 0.00014\\ -840 0.0001\\ -820 0.00005\\ -800 0.00002\\ -780 0\\ -700 0\\
};
\addplot[curve, cR] table[row sep=\\] {
-1150 0.0002\\ -1145 0.0003\\ -1140 0.00045\\ -1135 0.0007\\ -1130 0.00105\\ -1125 0.0014\\ -1120 0.0018\\ -1115 0.0022\\ -1110 0.0026\\ -1105 0.0029\\ -1100 0.0032\\ -1095 0.0035\\ -1090 0.0039\\ -1085 0.0042\\ -1080 0.0045\\ -1075 0.0048\\ -1070 0.0051\\ -1065 0.0054\\ -1060 0.0056\\ -1055 0.0058\\ -1050 0.00598\\ -1045 0.0061\\ -1040 0.0063\\ -1035 0.0064\\ -1030 0.00645\\ -1022 0.0065\\ -1015 0.00648\\ -1005 0.0063\\ -995 0.0061\\ -985 0.00582\\ -975 0.0053\\ -965 0.0047\\ -955 0.0041\\ -945 0.0035\\ -935 0.00285\\ -925 0.0023\\ -915 0.00185\\ -905 0.0015\\ -895 0.00125\\ -885 0.001\\ -875 0.00083\\ -865 0.00067\\ -855 0.00053\\ -845 0.00041\\ -835 0.00033\\ -825 0.00027\\ -815 0.00021\\ -805 0.00017\\ -795 0.00014\\ -780 0.00011\\ -760 0.00008\\ -740 0.00006\\ -720 0.00004\\ -700 0.00003\\
};
\end{axis}
\end{tikzpicture}
\end{document}
